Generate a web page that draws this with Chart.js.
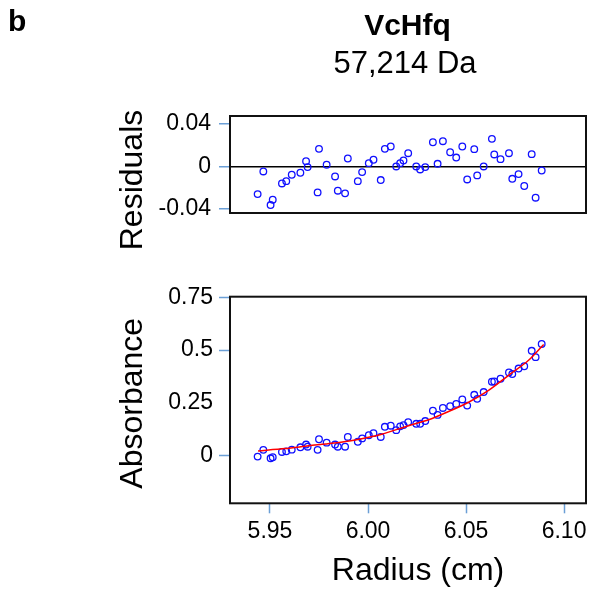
<!DOCTYPE html>
<html>
<head>
<meta charset="utf-8">
<script src="https://cdn.jsdelivr.net/npm/chart.js@4/dist/chart.umd.min.js"></script>
<style>
  html, body { margin: 0; padding: 0; background: #fff; }
  #wrap { position: relative; width: 593px; height: 594px; }
  #wrap canvas { position: absolute; left: 0; }
</style>
</head>
<body>
<div id="wrap">
  <canvas id="residChart" width="593" height="250" style="top:0"></canvas>
  <canvas id="absChart" width="593" height="344" style="top:250px"></canvas>
</div>
<script>
// radius of each scan point (cm), shared by both panels
const radius = [5.9437, 5.9466, 5.9503, 5.9514, 5.9561, 5.9583, 5.9611, 5.9655, 5.9684, 5.9692,
  5.9743, 5.9750, 5.9789, 5.9832, 5.9846, 5.9883, 5.9897, 5.9948, 5.9970, 6.0004,
  6.0028, 6.0065, 6.0086, 6.0116, 6.0144, 6.0164, 6.0181, 6.0205, 6.0246, 6.0266,
  6.0292, 6.0331, 6.0355, 6.0382, 6.0419, 6.0450, 6.0481, 6.0506, 6.0542, 6.0557,
  6.0590, 6.0632, 6.0644, 6.0676, 6.0719, 6.0736, 6.0768, 6.0797, 6.0835, 6.0855, 6.0886];
const residuals = [-0.026, -0.0047, -0.0363, -0.0313, -0.016, -0.0138, -0.0078, -0.0059, 0.005, -0.0006,
  -0.0244, 0.0166, 0.0016, -0.0094, -0.0228, -0.0253, 0.0075, -0.0138, -0.0053, 0.0031,
  0.0063, -0.0128, 0.0166, 0.0188, 0.0, 0.0031, 0.0056, 0.0125, 0.0, -0.0028,
  -0.0006, 0.0228, 0.0025, 0.0238, 0.0134, 0.0084, 0.0188, -0.0122, 0.0163, -0.0084,
  0.0, 0.026, 0.0113, 0.0069, 0.0125, -0.0116, -0.0072, -0.0184, 0.0116, -0.0294, -0.0038];
const absorbance = [-0.003, 0.029, -0.011, -0.006, 0.019, 0.022, 0.030, 0.041, 0.054, 0.044,
  0.029, 0.079, 0.063, 0.054, 0.044, 0.044, 0.090, 0.067, 0.083, 0.098,
  0.108, 0.090, 0.138, 0.143, 0.122, 0.140, 0.146, 0.160, 0.152, 0.152,
  0.165, 0.214, 0.194, 0.227, 0.235, 0.246, 0.267, 0.238, 0.289, 0.270,
  0.302, 0.351, 0.352, 0.365, 0.395, 0.387, 0.413, 0.424, 0.497, 0.467, 0.529];

// fitted curve (red)
const fitRadius = [5.9439, 5.9578, 5.9697, 5.9816, 5.9935, 6.0070, 6.0207, 6.0309, 6.0411, 6.0513, 6.0615, 6.0717, 6.0819, 6.0896];
const fitAbsorbance = [0.024, 0.035, 0.048, 0.060, 0.076, 0.103, 0.143, 0.171, 0.210, 0.254, 0.310, 0.381, 0.452, 0.527];

// ticks
const radiusTicks = [5.95, 6.00, 6.05, 6.10];
const radiusTickLabels = ['5.95', '6.00', '6.05', '6.10'];
const residualTicks = [-0.04, -0.02, 0, 0.02, 0.04];
const residualTickLabels = ['-0.04', '', '0', '', '0.04'];
const absorbanceTicks = [0, 0.25, 0.5, 0.75];
const absorbanceTickLabels = ['0', '0.25', '0.5', '0.75'];

const FONT = '"Liberation Sans", Arial, sans-serif';
const TICK_BLUE = '#6b9fd6';
const POINT_BLUE = '#1010ff';

Chart.defaults.font.family = FONT;
Chart.defaults.color = '#000';

function setTicks(values) {
  return scale => { scale.ticks = values.map(v => ({ value: v })); };
}
function fixWidth(w) {
  return scale => { scale.width = w; };
}

// frame around the plot area + free text (headings, axis titles)
function panelText(items) {
  return {
    id: 'panelText',
    afterDraw(chart) {
      const ctx = chart.ctx;
      const a = chart.chartArea;
      ctx.save();
      ctx.strokeStyle = '#111';
      ctx.lineWidth = 2;
      ctx.strokeRect(a.left, a.top, a.right - a.left, a.bottom - a.top);
      ctx.fillStyle = '#000';
      items.forEach(t => {
        ctx.save();
        ctx.font = t.font;
        ctx.textAlign = t.align || 'center';
        ctx.textBaseline = 'alphabetic';
        ctx.translate(t.x, t.y);
        if (t.rotate) ctx.rotate(-Math.PI / 2);
        ctx.fillText(t.text, 0, 0);
        ctx.restore();
      });
      ctx.restore();
    }
  };
}

const pointStyle = {
  pointStyle: 'circle',
  pointRadius: 3.3,
  borderColor: POINT_BLUE,
  backgroundColor: 'rgba(0,0,0,0)',
  borderWidth: 1.3,
  showLine: false
};

// top panel: residuals
new Chart(document.getElementById('residChart'), {
  type: 'scatter',
  data: {
    datasets: [Object.assign({
      data: radius.map((r, i) => ({ x: r, y: residuals[i] }))
    }, pointStyle)]
  },
  options: {
    responsive: false,
    animation: false,
    events: [],
    layout: { padding: { left: 0, right: 7, top: 116, bottom: 37 } },
    plugins: { legend: { display: false }, tooltip: { enabled: false } },
    scales: {
      x: { type: 'linear', display: false, min: 5.9296, max: 6.1112 },
      y: {
        min: -0.0438, max: 0.0475,
        afterBuildTicks: setTicks(residualTicks),
        afterFit: fixWidth(230),
        border: { display: false },
        grid: {
          color: c => (c.tick && c.tick.value === 0) ? '#000' : 'rgba(0,0,0,0)',
          lineWidth: 1.5,
          tickLength: 11,
          tickColor: TICK_BLUE,
          tickWidth: 1.5
        },
        ticks: { padding: 8, font: { size: 23 }, color: '#000', callback: (v, i) => residualTickLabels[i] }
      }
    }
  },
  plugins: [panelText([
    { text: 'b', font: 'bold 30px ' + FONT, x: 8, y: 31, align: 'left' },
    { text: 'VcHfq', font: 'bold 30px ' + FONT, x: 407.5, y: 35 },
    { text: '57,214 Da', font: '31px ' + FONT, x: 405, y: 72.5 },
    { text: 'Residuals', font: '32px ' + FONT, x: 141.5, y: 180, rotate: true }
  ])]
});

// bottom panel: absorbance with fit
new Chart(document.getElementById('absChart'), {
  type: 'scatter',
  data: {
    datasets: [
      {
        data: fitRadius.map((r, i) => ({ x: r, y: fitAbsorbance[i] })),
        showLine: true,
        borderColor: '#ff0000',
        borderWidth: 1.5,
        pointRadius: 0,
        tension: 0.3,
        fill: false
      },
      Object.assign({
        data: radius.map((r, i) => ({ x: r, y: absorbance[i] }))
      }, pointStyle)
    ]
  },
  options: {
    responsive: false,
    animation: false,
    events: [],
    layout: { padding: { left: 0, right: 7, top: 46.7, bottom: 0 } },
    plugins: { legend: { display: false }, tooltip: { enabled: false } },
    scales: {
      x: {
        type: 'linear', min: 5.9296, max: 6.1112,
        afterBuildTicks: setTicks(radiusTicks),
        afterFit: scale => { scale.height = 90.7; },
        border: { display: false },
        grid: { drawOnChartArea: false, tickLength: 10, tickColor: TICK_BLUE, tickWidth: 1.5 },
        ticks: { padding: 5, font: { size: 23 }, maxRotation: 0, autoSkip: false, callback: (v, i) => radiusTickLabels[i] }
      },
      y: {
        min: -0.2235, max: 0.7525,
        afterBuildTicks: setTicks(absorbanceTicks),
        afterFit: fixWidth(230),
        border: { display: false },
        grid: {
          drawOnChartArea: false,
          tickLength: 11,
          tickColor: c => (c.tick && c.tick.value === 0.25) ? 'rgba(0,0,0,0)' : TICK_BLUE,
          tickWidth: 1.5
        },
        ticks: { padding: 6, font: { size: 23 }, callback: (v, i) => absorbanceTickLabels[i] }
      }
    }
  },
  plugins: [panelText([
    { text: 'Absorbance', font: '32px ' + FONT, x: 141.5, y: 153.3, rotate: true },
    { text: 'Radius (cm)', font: '32px ' + FONT, x: 418, y: 330 }
  ])]
});
</script>
</body>
</html>
